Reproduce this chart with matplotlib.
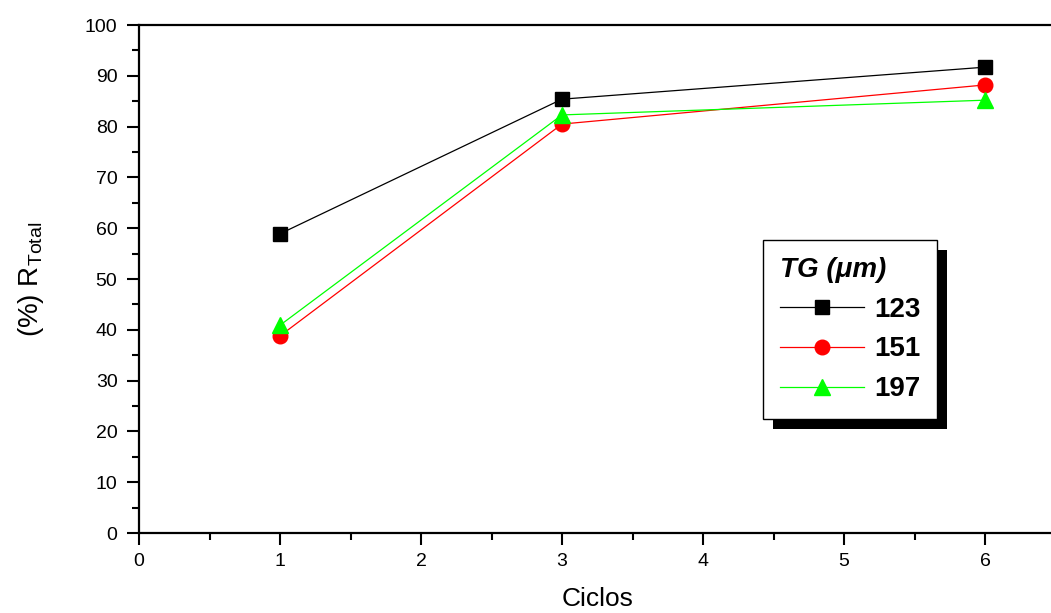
import matplotlib
matplotlib.use("Agg")
import matplotlib.pyplot as plt
from matplotlib.patches import Rectangle
from matplotlib.ticker import MultipleLocator

plt.rcParams['font.family'] = ['Liberation Sans', 'DejaVu Sans']

ciclos = [1, 3, 6]
r_123 = [58.9, 85.4, 91.7]
r_151 = [38.8, 80.5, 88.2]
r_197 = [40.9, 82.3, 85.2]
labels = ["123", "151", "197"]
colors = ["black", "red", "#00ff00"]
markers = ["s", "o", "^"]

W, H = 1051, 613
fig = plt.figure(figsize=(W / 100, H / 100), dpi=100)
x0, x1 = 139, 139 + 6.5 * 141
y0, y1 = 533, 25
ax = fig.add_axes([x0 / W, (H - y0) / H, (x1 - x0) / W, (y0 - y1) / H])

for vals, lab, c, m in zip([r_123, r_151, r_197], labels, colors, markers):
    ms = 12 if m == "^" else 10.5
    ax.plot(ciclos, vals, color=c, marker=m, markersize=ms, linewidth=0.9,
            markeredgecolor=c, label=lab, clip_on=False)

ax.set_xlim(0, 6.5)
ax.set_ylim(0, 100)
ax.xaxis.set_major_locator(MultipleLocator(1))
ax.xaxis.set_minor_locator(MultipleLocator(0.5))
ax.yaxis.set_major_locator(MultipleLocator(10))
ax.yaxis.set_minor_locator(MultipleLocator(5))
ax.tick_params(which='major', direction='out', length=8.5, width=1.5, labelsize=14)
ax.tick_params(which='minor', direction='out', length=5, width=1.5)
ax.tick_params(axis='x', pad=6)
ax.tick_params(axis='y', pad=7)
for s in ax.spines.values():
    s.set_linewidth(1.6)
ax.spines['right'].set_visible(False)

ax.set_xlabel("Ciclos", fontsize=19, labelpad=12)
ax.set_ylabel(r"(%) R$_{\mathregular{Total}}$", fontsize=20, labelpad=28)

leg = ax.legend(loc='upper left', bbox_to_anchor=(763 / W, 1 - 240 / H),
                bbox_transform=fig.transFigure, title="TG (\u03bcm)",
                title_fontproperties={'weight': 'bold', 'style': 'italic', 'size': 20},
                prop={'weight': 'bold', 'size': 20}, alignment='left',
                fancybox=False, edgecolor='black', framealpha=1,
                handlelength=3.05, handletextpad=0.36, borderpad=0.6,
                labelspacing=0.5, borderaxespad=0)
leg.get_frame().set_linewidth(1.0)
leg.set_zorder(10)

fig.canvas.draw()
bb = leg.get_window_extent()
sh = Rectangle((bb.x0 + 10, bb.y0 - 10), bb.width, bb.height,
               transform=None, facecolor='black', edgecolor='none',
               zorder=9, clip_on=False)
ax.add_patch(sh)
fig.savefig("out.png", dpi=100)
